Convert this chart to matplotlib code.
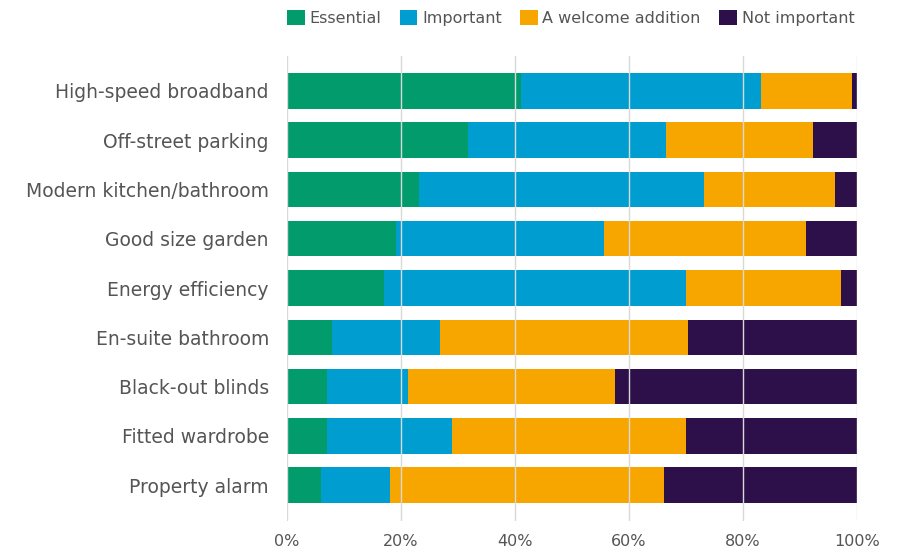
import matplotlib
matplotlib.use("Agg")
import matplotlib.pyplot as plt
from matplotlib.patches import Patch
import numpy as np

categories = ["High-speed broadband", "Off-street parking", "Modern kitchen/bathroom",
              "Good size garden", "Energy efficiency", "En-suite bathroom",
              "Black-out blinds", "Fitted wardrobe", "Property alarm"]
essential = [41.0, 31.7, 23.1, 19.2, 17.1, 7.9, 7.1, 7.1, 6.0]
important = [42.1, 34.8, 50.0, 36.4, 52.9, 18.9, 14.2, 21.9, 12.1]
welcome = [16.0, 25.8, 23.0, 35.4, 27.2, 43.6, 36.3, 41.0, 48.1]
not_important = [0.9, 7.7, 3.9, 9.0, 2.8, 29.6, 42.4, 30.0, 33.8]
series_names = ["Essential", "Important", "A welcome addition", "Not important"]
colors = ["#029B6B", "#009ED0", "#F7A600", "#2D1049"]
xticks = [0, 20, 40, 60, 80, 100]
xtick_labels = ["0%", "20%", "40%", "60%", "80%", "100%"]

fig = plt.figure(figsize=(8.99, 5.53), dpi=100)
ax = fig.add_axes([287/899, 1-521/553, (857-287)/899, (521-56)/553])

y = np.arange(len(categories))
left = np.zeros(len(categories))
for vals, c, name in zip([essential, important, welcome, not_important], colors, series_names):
    ax.barh(y, vals, left=left, height=0.72, color=c, label=name, zorder=2)
    left += np.array(vals)

ax.set_xlim(0, 100)
ax.set_ylim(len(categories) - 1 + 0.73, -0.71)
ax.set_yticks(y)
ax.set_yticklabels(categories, fontsize=13.5, color="#555555")
ax.set_xticks(xticks)
ax.set_xticklabels(xtick_labels, fontsize=11.5, color="#555555")
ax.tick_params(axis="y", length=0, pad=13)
ax.tick_params(axis="x", length=0, pad=9)
for s in ax.spines.values():
    s.set_visible(False)
ax.grid(axis="x", color="#d9d9d9", linewidth=1.0, zorder=3)
ax.set_axisbelow(False)

handles = [Patch(facecolor=c, edgecolor="none") for c in colors]
leg = fig.legend(handles, series_names, loc="center left", bbox_to_anchor=(287/899, 1-18/553),
                 ncol=4, frameon=False, fontsize=11.5, handlelength=1.1, handleheight=1.1,
                 handletextpad=0.3, columnspacing=1.15, borderpad=0, borderaxespad=0)
for t in leg.get_texts():
    t.set_color("#555555")

fig.savefig("out.png", dpi=100)
